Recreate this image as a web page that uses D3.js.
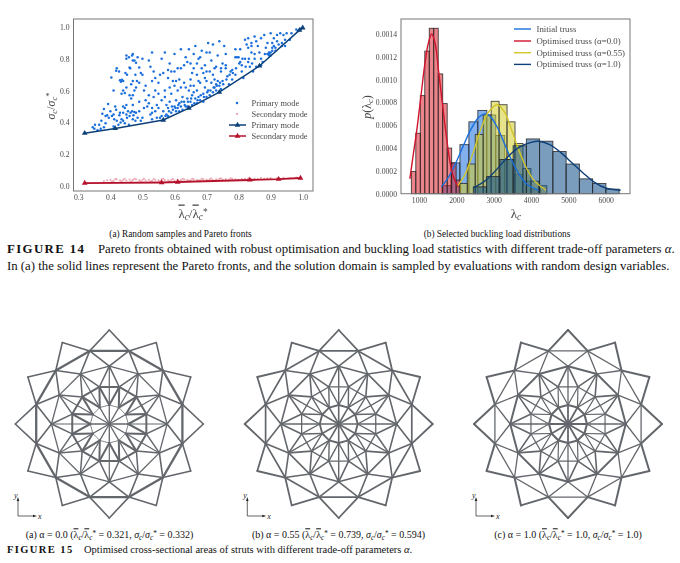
<!DOCTYPE html>
<html><head><meta charset="utf-8">
<script src="https://cdn.jsdelivr.net/npm/d3@7/dist/d3.min.js"></script>
<style>html,body{margin:0;padding:0;background:#fff}svg{display:block}text{font-family:"Liberation Serif",serif}</style>
</head><body><svg id="c" width="680" height="563"></svg>
<script>
// ---------- data: panel (a) ----------
const paretoTicksX=[0.3,0.4,0.5,0.6,0.7,0.8,0.9,1.0];
const paretoTicksY=[0,0.2,0.4,0.6,0.8,1.0];
const primaryFront=[[.32,.332],[.415,.362],[.565,.415],[.645,.49],[.74,.59],[.865,.755],[.99,.98],[1.0,.995]];
const secondaryFront=[[.32,.018],[.56,.022],[.61,.025],[.835,.038],[.925,.043],[.993,.05]];
const primarySamples=[
[.345,.37],[.35,.36],[.352,.385],[.36,.35],[.365,.385],[.37,.36],[.372,.41],[.38,.37],[.385,.395],[.375,.455],[.38,.485],[.385,.44],[.39,.445],[.393,.515],[.395,.43],[.4,.47],[.405,.44],[.41,.375],[.412,.42],[.415,.5],[.418,.48],[.42,.41],[.425,.385],[.428,.445],[.43,.46],[.432,.4],[.435,.42],[.44,.41],[.44,.5],[.445,.49],[.445,.395],[.45,.51],[.45,.45],[.452,.43],[.455,.47],[.458,.385],[.46,.44],[.463,.46],[.465,.55],[.468,.47],[.47,.42],[.472,.445],[.475,.465],[.478,.41],[.48,.46],[.485,.43],[.49,.47],[.495,.41],[.5,.43],[.505,.49],
[.403,.683],[.41,.6],[.418,.725],[.42,.74],[.427,.72],[.43,.665],[.433,.655],[.436,.668],[.44,.66],[.435,.58],[.44,.6],[.445,.585],[.45,.62],[.447,.71],[.452,.7],[.46,.745],[.462,.74],[.458,.81],[.45,.8],[.45,.82],[.468,.82],[.47,.83],[.47,.79],[.475,.79],[.48,.775],[.485,.81],[.478,.7],[.47,.66],[.483,.66],[.49,.65],[.49,.745],[.495,.71],[.5,.7],[.505,.6],[.51,.63],[.475,.6],[.48,.62],[.465,.64],[.46,.57],[.47,.57],[.5,.8],[.52,.79],[.53,.84],[.525,.75],[.53,.66],[.535,.72],
[.51,.54],[.515,.5],[.52,.57],[.525,.45],[.53,.42],[.53,.49],[.535,.56],[.54,.47],[.54,.6],[.545,.51],[.545,.43],[.55,.49],[.55,.65],[.555,.43],[.555,.7],[.56,.54],[.56,.44],[.565,.47],[.565,.71],[.57,.6],[.57,.84],[.575,.51],[.575,.45],[.58,.49],[.58,.68],[.585,.77],[.585,.53],[.59,.46],[.59,.58],[.595,.48],[.595,.66],[.6,.5],[.6,.72],[.6,.83],[.605,.47],[.605,.54],[.61,.49],[.61,.6],[.61,.74],[.615,.52],[.615,.47],[.62,.86],[.62,.5],[.62,.74],[.625,.56],[.625,.48],[.63,.53],[.63,.65],[.635,.5],[.635,.62],[.64,.55],[.64,.78],[.64,.5],[.645,.6],[.645,.86],[.65,.53],[.65,.67],[.65,.77],[.655,.57],[.655,.51],[.66,.63],[.66,.83],[.66,.74],[.665,.55],[.665,.88],[.67,.52],[.67,.6],[.67,.7],[.675,.8],[.675,.56],[.68,.65],[.68,.54],[.685,.74],[.685,.85],[.69,.58],[.69,.53],[.695,.62],[.695,.76],[.7,.66],[.7,.56],[.7,.84],[.705,.6],[.705,.9],[.71,.57],[.71,.72],[.715,.65],[.715,.79],[.72,.59],[.72,.89],[.725,.67],[.725,.62],[.73,.75],[.73,.6],[.735,.66],[.735,.82],[.74,.63],[.74,.91],[.745,.72],[.745,.61],[.75,.66],[.75,.77],[.755,.88],[.76,.74],[.765,.69],[.77,.64],[.775,.72],[.78,.67],[.79,.7],[.795,.81],[.8,.81],[.805,.78],[.81,.72],[.815,.68],[.82,.8],[.825,.89],[.83,.87],[.835,.75],[.84,.84],[.845,.72],[.85,.94],[.85,.8],[.855,.75],[.86,.88],[.865,.84],[.87,.93],[.875,.78],[.88,.95],[.885,.87],[.89,.9],[.895,.82],[.9,.96],[.9,.84],[.905,.87],[.91,.93],[.915,.85],[.92,.95],[.925,.89],[.93,.96],[.935,.9],[.94,.95],[.945,.88],[.95,.96],[.96,.92],[.965,.96],[.98,.985],[.985,.975],[.995,.99],
[.56,.8],[.58,.73],[.59,.72],[.6,.63],[.615,.67],[.63,.76],[.635,.81],[.655,.71],[.67,.77],[.68,.81],[.69,.71],[.71,.84],[.725,.74],[.76,.83],[.79,.86],[.805,.86],[.82,.92],[.83,.93],[.84,.88],[.84,.9],[.855,.91],[.87,.76],[.895,.84],[.905,.9],[.92,.91],[.55,.58],[.54,.68],[.57,.56],[.585,.62],[.58,.44],[.605,.66],[.62,.62],[.65,.63],[.66,.59],[.675,.66],[.695,.68],[.7,.72],[.72,.7],[.73,.64],[.745,.74],[.76,.76],[.78,.73],[.79,.81],[.81,.76],[.83,.78],[.85,.83],[.87,.8],[.89,.83],[.9,.82],[.91,.88],
[.572,.44],[.583,.47],[.592,.5],[.603,.49],[.612,.51],[.622,.53],[.632,.51],[.642,.53],[.652,.55],[.662,.52],[.672,.54],[.682,.57],[.692,.56],[.702,.59],[.712,.6],[.722,.62],[.732,.63],[.742,.65],[.752,.64],[.762,.67],[.772,.7],[.782,.71],[.792,.74],[.802,.77],[.812,.8],[.822,.75],[.832,.8],[.842,.77],[.882,.83],[.895,.83],[.905,.85],[.915,.87],[.935,.88],[.945,.92],[.53,.46],[.52,.52],[.49,.53],[.47,.51],[.44,.46],[.41,.45]
];
const secondarySamples=[[.38,.032],[.39,.036],[.4,.04],[.41,.033],[.42,.042],[.43,.036],[.44,.04],[.45,.034],[.46,.041],[.47,.038],[.48,.042],[.49,.036],[.5,.04],[.51,.035],[.52,.039],[.53,.033],[.54,.04],[.55,.036],[.56,.042],[.57,.038],[.58,.036],[.59,.04],[.6,.035],[.61,.041],[.62,.037],[.63,.043],[.64,.04],[.65,.036],[.66,.042],[.67,.038],[.68,.036],[.69,.042],[.7,.04],[.71,.044],[.72,.038],[.73,.042],[.74,.046],[.75,.04],[.76,.044],[.77,.04],[.78,.046],[.79,.042],[.8,.04],[.81,.044],[.82,.046],[.83,.048],[.84,.042],[.85,.046],[.86,.044],[.87,.05],[.88,.046],[.89,.048],[.9,.05],[.92,.05],[.94,.052],[.96,.05],[.98,.054],[.405,.03],[.435,.03],[.465,.03],[.495,.03],[.525,.029],[.555,.03],[.585,.03],[.615,.032],[.645,.032],[.675,.034],[.705,.035],[.735,.035],[.415,.044],[.445,.045],[.475,.046],[.505,.045],[.535,.044],[.565,.045],[.595,.044],[.625,.046],[.655,.046],[.685,.045],[.715,.047],[.745,.048],[.775,.048]];

// ---------- data: panel (b) ----------
const histTicksX=[1000,2000,3000,4000,5000,6000];
const histTicksY=[0,.0002,.0004,.0006,.0008,.0010,.0012,.0014];
const initialBins={start:1616,width:240,heights:[.00007,.00027,.00043,.00063,.00073,.00069,.00051,.0003,.00017,.00011,.00004]};
const alpha00Bins={start:795,width:120,heights:[.000195,.00053,.00086,.00125,.00145,.00145,.00105,.00079,.0004,.00027,.00012]};
const alpha055Bins={start:2080,width:213,heights:[.00009,.00026,.00052,.00069,.00081,.00078,.00063,.00044,.00022,.00011,.00007]};
const alpha10Bins={start:2455,width:355,heights:[.00006,.00015,.0003,.00042,.00048,.00046,.00037,.00026,.00013,.00009,.00004]};
const initialKde=[[1600,.00006],[1800,.00015],[2000,.00028],[2200,.00043],[2400,.00057],[2600,.00067],[2750,.0007],[2900,.00068],[3100,.00058],[3300,.00043],[3500,.00028],[3700,.00016],[3900,.00008],[4200,.00003]];
const alpha00Kde=[[755,.00013],[850,.00035],[950,.00058],[1050,.00085],[1150,.00112],[1250,.00132],[1340,.0014],[1430,.00132],[1530,.00106],[1630,.00078],[1730,.00051],[1830,.00028],[1930,.00014],[2050,.00006]];
const alpha055Kde=[[2040,.00007],[2250,.00018],[2450,.00036],[2650,.00056],[2850,.00071],[3100,.00078],[3300,.00071],[3500,.00054],[3700,.00036],[3900,.00021],[4100,.00011],[4400,.00003]];
const alpha10Kde=[[2450,.00005],[2800,.00012],[3100,.00022],[3400,.00033],[3700,.00041],[4000,.00045],[4200,.00046],[4500,.00043],[4800,.00036],[5100,.00027],[5400,.00018],[5700,.0001],[6000,.00005],[6400,.00003]];
const histLegend=["Initial truss","Optimised truss (α=0.0)","Optimised truss (α=0.55)","Optimised truss (α=1.0)"];
const scatterLegend=["Primary mode","Secondary mode","Primary mode","Secondary mode"];

// ---------- data: truss panels ----------
const ringRadii=[0,.202,.408,.615,.805,1];     // relative radius of each node ring
const ringPhase=[0,0,15,0,15,0];               // angular phase of each ring, degrees
const strutFamilies=["spoke","r1poly","r1r3","r2r1","r2poly","r3r2","r3poly","r3r4","r4poly","tip"];
const strutRings=[[0,1,0],[1,1,1],[1,3,0],[2,1,0],[2,2,1],[3,2,0],[3,3,1],[3,4,0],[4,4,1],[5,4,0]];
const widthsA=[1.3,.8,1.2,2,2,1.5,1.3,1.6,2.3,1.6];
const widthsB=[1.6,1.9,1.4,1.4,1.3,1.6,1.6,1.6,1.7,1.8];
const widthsC=[1.8,2.1,1.3,1.2,1.2,1.6,2,1.3,1.3,2];
const trussPanels=[
 {cx:109.3,widths:widthsA,ox:18,label:"(a)"},
 {cx:338.7,widths:widthsB,ox:247.3,label:"(b)"},
 {cx:568,widths:widthsC,ox:476,label:"(c)"}];

const svg=d3.select("#c");
const ink="#4a4a4a";
const cBlue="#1b6fdc",cRed="#d0142c",cYellow="#d2c62a",cNavy="#0d3f78";

function label(sel,parts){
  parts.forEach(([t,o={}])=>{
    const s=sel.append("tspan").text(t);
    if(o.it)s.attr("font-style","italic");
    if(o.over)s.style("text-decoration","overline");
    if(o.sub)s.attr("baseline-shift","-22%").attr("font-size","72%");
    if(o.sup)s.attr("baseline-shift","32%").attr("font-size","72%");
    if(o.x)s.attr("x",o.x);
  });
  return sel;
}
function frame(g,x0,x1,y0,y1){g.append("rect").attr("x",x0).attr("y",y0).attr("width",x1-x0).attr("height",y1-y0).attr("fill","none").attr("stroke","#777").attr("stroke-width",1);}
function axes(g,x,y,tx,ty,fx,fy,yb,xl){
  const ax=g.append("g").attr("transform",`translate(0,${yb})`).call(d3.axisBottom(x).tickValues(tx).tickFormat(fx).tickSize(0).tickPadding(4));
  const ay=g.append("g").attr("transform",`translate(${xl},0)`).call(d3.axisLeft(y).tickValues(ty).tickFormat(fy).tickSize(0).tickPadding(4));
  [ax,ay].forEach(a=>{a.select(".domain").remove();a.selectAll("text").attr("font-size",7.7).attr("fill",ink).attr("font-family","Liberation Serif");});
}

// panel (a)
{
 const g=svg.append("g").attr("class","top").style("filter","blur(.3px)");
 const x=d3.scaleLinear([.3,1],[78.3,302.7]),y=d3.scaleLinear([0,1],[186,27]);
 g.append("g").selectAll("circle").data(secondarySamples).join("circle").attr("cx",d=>x(d[0])).attr("cy",d=>y(d[1])).attr("r",1).attr("fill","#e58f9c").attr("opacity",.8);
 g.append("g").selectAll("circle").data(primarySamples).join("circle").attr("cx",d=>x(d[0])).attr("cy",d=>y(d[1])).attr("r",1.25).attr("fill",cBlue);
 const ln=d3.line().x(d=>x(d[0])).y(d=>y(d[1]));
 const tri=d3.symbol(d3.symbolTriangle,14);
 [[primaryFront,cNavy,1.5],[secondaryFront,"#b5122b",1.9]].forEach(([d,c,w])=>{
  g.append("path").attr("d",ln(d)).attr("fill","none").attr("stroke",c).attr("stroke-width",w);
  g.append("g").selectAll("path").data(d).join("path").attr("d",tri).attr("transform",p=>`translate(${x(p[0])},${y(p[1])})`).attr("fill",c);
 });
 frame(g,73.5,313,19,191);
 axes(g,x,y,paretoTicksX,paretoTicksY,d3.format(".1f"),d3.format(".1f"),191,73.5);
 const rows=[103,114,125,136];
 g.append("circle").attr("cx",237).attr("cy",rows[0]).attr("r",1.25).attr("fill",cBlue);
 g.append("circle").attr("cx",237).attr("cy",rows[1]).attr("r",1).attr("fill","#e58f9c");
 [[2,cNavy],[3,"#b5122b"]].forEach(([i,c])=>{
  g.append("line").attr("x1",229).attr("x2",246).attr("y1",rows[i]).attr("y2",rows[i]).attr("stroke",c).attr("stroke-width",1.5);
  g.append("path").attr("d",tri).attr("transform",`translate(237.5,${rows[i]})`).attr("fill",c);
 });
 scatterLegend.forEach((t,i)=>g.append("text").attr("x",251.5).attr("y",rows[i]+2.8).attr("font-size",8.4).attr("fill",ink).text(t));
 label(g.append("text").attr("text-anchor","middle").attr("x",193).attr("y",217.5).attr("font-size",13).attr("fill",ink),[["λ",{over:1}],["c",{sub:1,it:1}],["/"],["λ",{over:1}],["c",{sub:1,it:1}],["*",{sup:1}]]);
 label(g.append("text").attr("text-anchor","middle").attr("transform","translate(55,106) rotate(-90)").attr("font-size",12).attr("fill",ink),[["σ",{it:1}],["c",{sub:1,it:1}],["/"],["σ",{it:1}],["c",{sub:1,it:1}],["*",{sup:1}]]);
}
// panel (b)
{
 const g=svg.append("g").attr("class","top").style("filter","blur(.3px)");
 const x=d3.scaleLinear([1000,6000],[419,605.7]),y=d3.scaleLinear([0,.0014],[193.7,34]);
 const hist=(b,c)=>g.append("g").selectAll("rect").data(b.heights).join("rect")
   .attr("x",(d,i)=>x(b.start+i*b.width)).attr("width",x(b.start+b.width)-x(b.start))
   .attr("y",d=>y(d)).attr("height",d=>y(0)-y(d))
   .attr("fill",c).attr("fill-opacity",.55).attr("stroke","#222").attr("stroke-opacity",.85).attr("stroke-width",.9);
 hist(initialBins,"#1b6fdc");hist(alpha00Bins,"#d8202e");hist(alpha055Bins,"#d4cc2a");hist(alpha10Bins,"#0d4a86");
 const ln=d3.line().x(d=>x(d[0])).y(d=>y(d[1])).curve(d3.curveCatmullRom);
 [[initialKde,cBlue],[alpha00Kde,cRed],[alpha055Kde,cYellow],[alpha10Kde,cNavy]].forEach(([d,c])=>g.append("path").attr("d",ln(d)).attr("fill","none").attr("stroke",c).attr("stroke-width",1.4));
 frame(g,401,630,19,193.7);
 axes(g,x,y,histTicksX,histTicksY,d3.format("d"),d3.format(".4f"),193.7,401);
 const rows=[29,41,52.7,64.4],cols=[cBlue,cRed,cYellow,cNavy];
 histLegend.forEach((t,i)=>{
  g.append("line").attr("x1",514).attr("x2",531).attr("y1",rows[i]).attr("y2",rows[i]).attr("stroke",cols[i]).attr("stroke-width",1.4);
  g.append("text").attr("x",536.5).attr("y",rows[i]+2.8).attr("font-size",8.8).attr("fill",ink).text(t);
 });
 label(g.append("text").attr("text-anchor","middle").attr("x",516).attr("y",217.5).attr("font-size",13).attr("fill",ink),[["λ"],["c",{sub:1,it:1}]]);
 label(g.append("text").attr("text-anchor","middle").attr("transform","translate(371,107) rotate(-90)").attr("font-size",12).attr("fill",ink),[["p",{it:1}],["("],["λ"],["c",{sub:1,it:1}],[")"]]);
}
svg.append("text").attr("x",180.5).attr("y",236.5).attr("text-anchor","middle").attr("font-size",9.3).attr("fill","#111").text("(a) Random samples and Pareto fronts");
svg.append("text").attr("x",497).attr("y",236.5).attr("text-anchor","middle").attr("font-size",9.3).attr("fill","#111").text("(b) Selected buckling load distributions");

// captions
const c1=svg.append("text").attr("x",7).attr("y",252.7).attr("font-size",12.8).attr("fill","#111");
c1.append("tspan").attr("font-weight","bold").attr("letter-spacing",1.4).text("FIGURE 14");
label(c1,[["Pareto fronts obtained with robust optimisation and buckling load statistics with different trade-off parameters ",{x:98}],["α",{it:1}],["."]]);
svg.append("text").attr("x",7).attr("y",270).attr("font-size",12.8).attr("fill","#111").text("In (a) the solid lines represent the Pareto fronts, and the solution domain is sampled by evaluations with random design variables.");
const c2=svg.append("text").attr("x",7).attr("y",552.7).attr("font-size",10.5).attr("fill","#111");
c2.append("tspan").attr("font-weight","bold").attr("letter-spacing",1.4).text("FIGURE 15");
label(c2,[["Optimised cross-sectional areas of struts with different trade-off parameters ",{x:84}],["α",{it:1}],["."]]);

// trusses
const rScale=d3.scaleLinear([0,1],[0,94]);
const angle=d3.scaleLinear([0,360],[0,2*Math.PI]);
const steps=d3.range(12);
trussPanels.forEach(p=>{
 const g=svg.append("g").attr("transform",`translate(${p.cx},424)`).style("filter","blur(.3px)");
 const pt=(ring,k)=>{const a=angle(ringPhase[ring]+30*k);const r=rScale(ringRadii[ring]);return [r*Math.cos(a),r*Math.sin(a)];};
 strutRings.forEach(([a,b,poly],fi)=>{
  let offs;
  if(strutFamilies[fi]==="spoke"||strutFamilies[fi]==="r1r3")offs=[0];
  else if(poly)offs=[1];
  else if(strutFamilies[fi]==="r2r1")offs=[0,1];
  else offs=[0,-1];
  steps.forEach(k=>offs.forEach(o=>{
    const A=pt(a,k),B=pt(b,k+o);
    g.append("line").attr("x1",A[0]).attr("y1",A[1]).attr("x2",B[0]).attr("y2",B[1]).attr("stroke","#63676c").attr("stroke-width",p.widths[fi]).attr("stroke-linecap","round");
  }));
 });
 const t=svg.append("g").attr("transform",`translate(${p.ox},516)`);
 t.append("path").attr("d","M0,-16V0H16").attr("fill","none").attr("stroke","#222").attr("stroke-width",.7);
 t.append("path").attr("d","M15,-1.3L19,0L15,1.3Z M-1.3,-15L0,-19L1.3,-15Z").attr("fill","#222");
 t.append("text").attr("x",20).attr("y",2.5).attr("font-size",8).attr("font-style","italic").attr("fill","#222").text("x");
 t.append("text").attr("x",-4).attr("y",-18).attr("font-size",8).attr("font-style","italic").attr("fill","#222").text("y");
});
const tc=[["(a) α = 0.0 (","0.321","0.332",109.5],["(b) α = 0.55 (","0.739","0.594",338.5],["(c) α = 1.0 (","1.0","1.0",568]];
tc.forEach(([a,l,s,cx])=>{
 label(svg.append("text").attr("x",cx).attr("y",538.3).attr("text-anchor","middle").attr("font-size",10).attr("fill","#111"),
 [[a],["λ",{over:1}],["c",{sub:1,it:1}],["/"],["λ",{over:1}],["c",{sub:1,it:1}],["*",{sup:1}],[" = "+l+", "],["σ",{it:1}],["c",{sub:1,it:1}],["/"],["σ",{it:1}],["c",{sub:1,it:1}],["*",{sup:1}],[" = "+s+")"]]);
});
</script></body></html>
